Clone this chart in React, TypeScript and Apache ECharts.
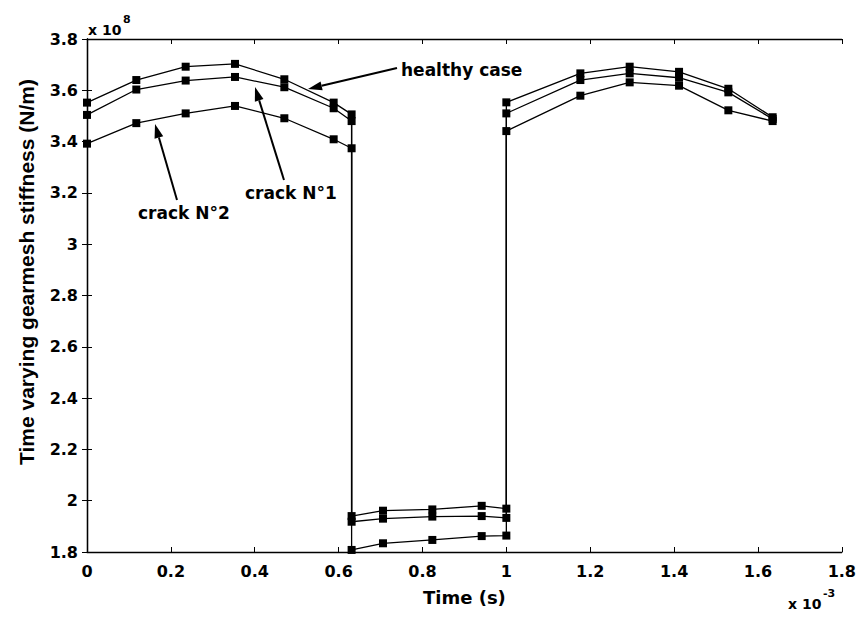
import React, { useEffect, useRef } from "react";
import * as echarts from "echarts";

// Time in units of 1e-3 s
const timeMs = [
  0, 0.1176, 0.2353, 0.3529, 0.4706, 0.5882, 0.631,
  0.631, 0.7059, 0.8235, 0.9412, 1.0,
  1.0, 1.1765, 1.2941, 1.4118, 1.5294, 1.635,
];
// Stiffness in units of 1e8 N/m
const healthyCase = [
  3.552, 3.64, 3.692, 3.703, 3.643, 3.552, 3.506,
  1.94, 1.961, 1.966, 1.98, 1.969,
  3.553, 3.666, 3.692, 3.672, 3.606, 3.495,
];
const crackN1 = [
  3.504, 3.603, 3.638, 3.652, 3.612, 3.53, 3.48,
  1.918, 1.93, 1.938, 1.94, 1.933,
  3.51, 3.64, 3.666, 3.649, 3.592, 3.488,
];
const crackN2 = [
  3.392, 3.472, 3.51, 3.539, 3.491, 3.409, 3.374,
  1.808, 1.834, 1.847, 1.862, 1.864,
  3.441, 3.579, 3.631, 3.618, 3.522, 3.48,
];

const xMin = 0, xMax = 1.8, xStep = 0.2;
const yMin = 1.8, yMax = 3.8, yStep = 0.2;

const FONT = "DejaVu Sans";

function arrow(x1: number, y1: number, tx: number, ty: number) {
  const dx = tx - x1, dy = ty - y1;
  const L = Math.sqrt(dx * dx + dy * dy);
  const ux = dx / L, uy = dy / L;
  const head = 14, hw = 4.5;
  const bx = tx - head * ux, by = ty - head * uy;
  const nx = -uy, ny = ux;
  return [
    {
      type: "line",
      shape: { x1, y1, x2: bx, y2: by },
      style: { stroke: "#000", lineWidth: 2 },
    },
    {
      type: "polygon",
      shape: {
        points: [
          [tx, ty],
          [bx + hw * nx, by + hw * ny],
          [bx - hw * nx, by - hw * ny],
        ],
      },
      style: { fill: "#000" },
    },
  ];
}

function mkSeries(name: string, vals: number[]) {
  return {
    name,
    type: "line",
    data: timeMs.map((t, i) => [t, vals[i]]),
    symbol: "rect",
    symbolSize: 8,
    showSymbol: true,
    lineStyle: { color: "#000", width: 1.3 },
    itemStyle: { color: "#000" },
    xAxisIndex: 0,
    yAxisIndex: 0,
  };
}

export default function App() {
  const ref = useRef<HTMLDivElement>(null);
  useEffect(() => {
    if (!ref.current) return;
    const chart = echarts.init(ref.current, null, { renderer: "svg" });
    const axisLine = { show: true, lineStyle: { color: "#000", width: 1.3 } };
    const axisTick = { show: true, inside: true, length: 5, lineStyle: { color: "#000", width: 1 } };
    const labelStyle = { color: "#000", fontFamily: FONT, fontWeight: "bold" as const, fontSize: 16 };
    chart.setOption({
      animation: false,
      backgroundColor: "#fff",
      grid: { left: 87, right: 17, top: 39, bottom: 65, containLabel: false },
      xAxis: [
        {
          type: "value", min: xMin, max: xMax, interval: xStep, position: "bottom",
          axisLine, axisTick, splitLine: { show: false },
          axisLabel: { ...labelStyle, margin: 11 },
          name: "Time (s)", nameLocation: "middle", nameGap: 36,
          nameTextStyle: { color: "#000", fontFamily: FONT, fontWeight: "bold", fontSize: 18 },
        },
        {
          type: "value", min: xMin, max: xMax, interval: xStep, position: "top",
          axisLine, axisTick, splitLine: { show: false }, axisLabel: { show: false },
        },
      ],
      yAxis: [
        {
          type: "value", min: yMin, max: yMax, interval: yStep, position: "left",
          axisLine, axisTick, splitLine: { show: false },
          axisLabel: { ...labelStyle, margin: 9 },
        },
        {
          type: "value", min: yMin, max: yMax, interval: yStep, position: "right",
          axisLine, axisTick, splitLine: { show: false }, axisLabel: { show: false },
        },
      ],
      series: [
        mkSeries("healthy case", healthyCase),
        mkSeries("crack N°1", crackN1),
        mkSeries("crack N°2", crackN2),
      ],
      graphic: [
        {
          type: "text", x: 26, y: 272, rotation: Math.PI / 2,
          style: {
            text: "Time varying gearmesh stiffness (N/m)",
            font: "bold 21px 'Liberation Sans', Arial, sans-serif",
            fill: "#000", align: "center", verticalAlign: "middle",
          },
        },
        {
          type: "text", x: 88, y: 30,
          style: { text: "x 10", font: `bold 14px '${FONT}'`, fill: "#000", align: "left", verticalAlign: "middle" },
        },
        {
          type: "text", x: 123, y: 19,
          style: { text: "8", font: `bold 11px '${FONT}'`, fill: "#000", align: "left", verticalAlign: "middle" },
        },
        {
          type: "text", x: 788, y: 604,
          style: { text: "x 10", font: `bold 14px '${FONT}'`, fill: "#000", align: "left", verticalAlign: "middle" },
        },
        {
          type: "text", x: 823, y: 593,
          style: { text: "-3", font: `bold 11px '${FONT}'`, fill: "#000", align: "left", verticalAlign: "middle" },
        },
        {
          type: "text", x: 401, y: 70,
          style: { text: "healthy case", font: `bold 17px '${FONT}'`, fill: "#000", align: "left", verticalAlign: "middle" },
        },
        {
          type: "text", x: 245, y: 193,
          style: { text: "crack N°1", font: `bold 17px '${FONT}'`, fill: "#000", align: "left", verticalAlign: "middle" },
        },
        {
          type: "text", x: 138, y: 213,
          style: { text: "crack N°2", font: `bold 17px '${FONT}'`, fill: "#000", align: "left", verticalAlign: "middle" },
        },
        ...arrow(397, 68, 308, 89),
        ...arrow(284, 180, 255, 87),
        ...arrow(177, 200, 155, 124),
      ],
    });
    return () => chart.dispose();
  }, []);
  return (
    <div
      ref={ref}
      style={{ position: "fixed", left: 0, top: 0, width: 859, height: 617, background: "#fff" }}
    />
  );
}
